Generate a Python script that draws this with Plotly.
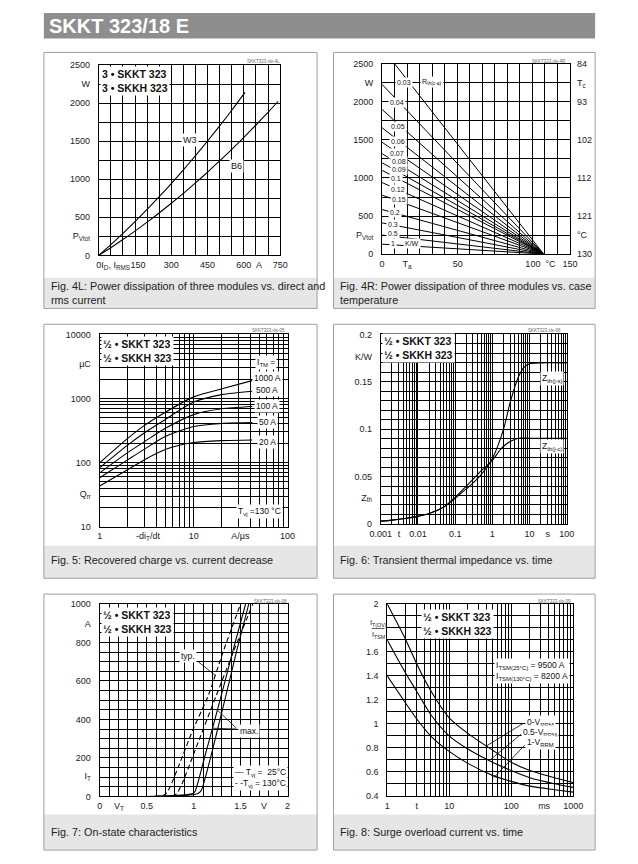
import plotly.graph_objects as go

W, H = 638, 864
FONT = "Liberation Sans, Arial, sans-serif"

# ---- Fig. 4L: power dissipation of three modules vs. current ----------------
i_w3 = [0, 50, 100, 150, 200, 250, 300, 350, 400, 450, 500, 550, 605]
p_w3 = [0, 141, 289, 443, 603, 770, 943, 1123, 1310, 1502, 1700, 1906, 2140]
i_b6 = [0, 50, 100, 150, 200, 250, 300, 350, 400, 450, 500, 550, 600, 650, 700, 742]
p_b6 = [0, 101, 208, 319, 436, 557, 684, 815, 952, 1094, 1241, 1393, 1550, 1712, 1879, 2024]

# ---- Fig. 4R: one straight line per Rth(c-a), from its start to the common end point
rth_labels = ["0.03", "0.04", "0.05", "0.06", "0.07", "0.08", "0.09",
              "0.1", "0.12", "0.15", "0.2", "0.3", "0.5", "1"]
ta_start = [10, 0, 0, 0, 0, 0, 0, 0, 0, 0, 0, 0, 0, 0]
p_start = [2500, 2230, 1900, 1660, 1470, 1320, 1200, 1100, 940, 775, 585, 410, 250, 130]
ta_end = 129

# ---- Fig. 5: recovered charge vs. -diT/dt -----------------------------------
didt = [1, 2, 3, 5, 10, 20, 42]
qrr_1000 = [99, 240, 380, 610, 1060, 1420, 1900]
qrr_500 = [83, 189, 292, 471, 879, 1150, 1300]
qrr_100 = [69, 144, 212, 342, 560, 690, 750]
qrr_50 = [58, 111, 162, 254, 365, 408, 420]
qrr_20 = [43, 78, 111, 160, 205, 220, 225]

# ---- Fig. 6: transient thermal impedance ------------------------------------
t_jc = [0.001, 0.002, 0.005, 0.01, 0.02, 0.05, 0.1, 0.2, 0.3, 0.5, 1, 1.6, 2, 3, 5, 10, 100]
z_jc = [0.003, 0.004, 0.006, 0.008, 0.011, 0.018, 0.028, 0.04, 0.047, 0.056, 0.067,
        0.078, 0.082, 0.087, 0.0905, 0.0905, 0.0905]
t_js = [0.001, 0.002, 0.005, 0.01, 0.02, 0.05, 0.1, 0.2, 0.3, 0.5, 1, 2, 3, 5, 7, 10, 20, 100]
z_js = [0.003, 0.004, 0.006, 0.008, 0.011, 0.018, 0.027, 0.037, 0.043, 0.052, 0.069,
        0.1, 0.128, 0.155, 0.165, 0.169, 0.17, 0.17]

# ---- Fig. 7: on-state characteristics ---------------------------------------
v_typ130 = [0.5, 0.66, 0.70, 0.75, 0.85, 1.0, 1.15, 1.32, 1.50]
i_typ130 = [0, 3, 12, 50, 170, 355, 517, 760, 1000]
v_max130 = [0.6, 0.78, 0.82, 0.88, 1.0, 1.235, 1.43, 1.63]
i_max130 = [0, 3, 14, 70, 220, 517, 760, 1000]
v_max25 = [0.55, 0.8, 0.97, 1.01, 1.05, 1.12, 1.2, 1.29, 1.42, 1.553]
i_max25 = [0, 4, 12, 22, 80, 210, 352, 517, 760, 1000]
v_typ25 = [0.55, 0.85, 1.04, 1.08, 1.12, 1.2, 1.34, 1.46, 1.587]
i_typ25 = [0, 4, 14, 30, 90, 240, 517, 760, 1000]

# ---- Fig. 8: surge overload current vs. time --------------------------------
t_surge = [1, 2, 3, 5, 10, 20, 50, 100, 200, 500, 1000]
ratio_0v = [2.0, 1.7, 1.5, 1.28, 1.05, 0.92, 0.78, 0.68, 0.61, 0.55, 0.51]
ratio_05v = [1.7, 1.42, 1.27, 1.08, 0.90, 0.79, 0.68, 0.61, 0.55, 0.50, 0.47]
ratio_1v = [1.4, 1.17, 1.04, 0.90, 0.77, 0.67, 0.57, 0.52, 0.48, 0.45, 0.43]


def fx(x):
    """Pixel column -> paper x."""
    return x / W


def fy(y):
    """Pixel row -> paper y."""
    return 1 - y / H


def axis(x0, x1, rng, vals, text, grid, kind="linear", anchor=None, vertical=False):
    dom = [fy(x1), fy(x0)] if vertical else [fx(x0), fx(x1)]
    return dict(
        type=kind, domain=dom, range=rng, anchor=anchor,
        tickmode="array", tickvals=vals, ticktext=text, tickangle=0,
        ticks="", ticklen=0, showgrid=False, zeroline=False,
        showline=True, mirror=True, linecolor="black", linewidth=1,
        tickfont=dict(family=FONT, size=9, color="#222"),
        ticklabelstandoff=6 if vertical else 1,
        minor=dict(showgrid=True, gridcolor="black", gridwidth=0.8, dtick=grid, tick0=0),
        fixedrange=True,
    )


fig = go.Figure()
line = dict(color="black", width=1.1, shape="spline", smoothing=0.7)
dash = dict(color="black", width=1.1, dash="5px,3px", shape="spline", smoothing=0.7)

fig.add_trace(go.Scatter(x=i_w3, y=p_w3, mode="lines", line=line, xaxis="x", yaxis="y"))
fig.add_trace(go.Scatter(x=i_b6, y=p_b6, mode="lines", line=line, xaxis="x", yaxis="y"))

fan_x, fan_y = [], []
for t0, p0 in zip(ta_start, p_start):
    fan_x += [t0, ta_end, None]
    fan_y += [p0, 0, None]
fig.add_trace(go.Scatter(x=fan_x, y=fan_y, mode="lines",
                         line=dict(color="black", width=1), xaxis="x2", yaxis="y2"))
fig.add_trace(go.Scatter(x=[None], y=[None], xaxis="x2", yaxis="y7"))

for q in (qrr_1000, qrr_500, qrr_100, qrr_50, qrr_20):
    fig.add_trace(go.Scatter(x=didt, y=q, mode="lines", line=line, xaxis="x3", yaxis="y3"))

fig.add_trace(go.Scatter(x=t_js, y=z_js, mode="lines", line=line, xaxis="x4", yaxis="y4"))
fig.add_trace(go.Scatter(x=t_jc, y=z_jc, mode="lines", line=line, xaxis="x4", yaxis="y4"))

fig.add_trace(go.Scatter(x=v_typ130, y=i_typ130, mode="lines", line=dash, xaxis="x5", yaxis="y5"))
fig.add_trace(go.Scatter(x=v_max130, y=i_max130, mode="lines", line=dash, xaxis="x5", yaxis="y5"))
fig.add_trace(go.Scatter(x=v_typ25, y=i_typ25, mode="lines", line=line, xaxis="x5", yaxis="y5"))
fig.add_trace(go.Scatter(x=v_max25, y=i_max25, mode="lines", line=line, xaxis="x5", yaxis="y5"))

for r in (ratio_0v, ratio_05v, ratio_1v):
    fig.add_trace(go.Scatter(x=t_surge, y=r, mode="lines", line=line, xaxis="x6", yaxis="y6"))

# Axes: pixel positions of each plot frame, tick labels as printed in the sheet
fig.update_layout(
    xaxis=axis(90.7, 278.3, [0, 750], [0, 70, 162, 300, 450, 600, 663, 750],
               ["0", "I<sub>D</sub>, I<sub>RMS</sub>", "150", "300", "450", "600", "A", "750"],
               50, anchor="y"),
    yaxis=axis(60.7, 253.3, [0, 2500], [0, 250, 500, 1000, 1500, 2000, 2250, 2500],
               ["0", "P<sub>Vtot</sub>", "500", "1000", "1500", "2000", "W", "2500"],
               250, anchor="x", vertical=True),
    xaxis2=axis(383.7, 578, [0, 150], [0, 20, 60.5, 120.4, 134.5, 150],
                ["0", "T<sub>a</sub>", "50", "100", "°C", "150"], 10, anchor="y2"),
    yaxis2=axis(59.5, 252, [0, 2500], [0, 250, 500, 1000, 1500, 2000, 2250, 2500],
                ["0", "P<sub>Vtot</sub>", "500", "1000", "1500", "2000", "W", "2500"],
                250, anchor="x2", vertical=True),
    xaxis3=axis(91.7, 286, [0, 2], [1, 3.27, 10, 31.5, 100],
                ["1", "-di<sub>T</sub>/dt", "10", "A/µs", "100"], "D1", kind="log", anchor="y3"),
    yaxis3=axis(333.3, 527.7, [1, 4], [10, 32, 100, 1000, 3440, 10000],
                ["10", "Q<sub>rr</sub>", "100", "1000", "µC", "10000"], "D1",
                kind="log", anchor="x3", vertical=True),
    xaxis4=axis(382.3, 574.7, [-3, 2], [0.001, 0.0031, 0.01, 0.1, 1, 10, 31, 100],
                ["0.001", "t", "0.01", "0.1", "1", "10", "s", "100"], "D1", kind="log", anchor="y4"),
    yaxis4=axis(333.3, 525, [0, 0.2], [0, 0.028, 0.05, 0.1, 0.15, 0.176, 0.2],
                ["0", "Z<sub>th</sub>", "0.05", "0.1", "0.15", "K/W", "0.2"], 0.01,
                anchor="x4", vertical=True),
    xaxis5=axis(91.7, 286, [0, 2], [0, 0.206, 0.5, 1, 1.5, 1.75, 2],
                ["0", "V<sub>T</sub>", "0.5", "1", "1.5", "V", "2"], 0.1, anchor="y5"),
    yaxis5=axis(606, 800.7, [0, 1000], [0, 106, 200, 400, 600, 800, 899, 1000],
                ["0", "I<sub>T</sub>", "200", "400", "600", "800", "A", "1000"], 50,
                anchor="x5", vertical=True),
    xaxis6=axis(389, 581.3, [0, 3], [1, 3, 10, 100, 340, 1000],
                ["1", "t", "10", "100", "ms", "1000"], "D1", kind="log", anchor="y6"),
    yaxis6=axis(606, 800, [0.4, 2], [0.4, 0.6, 0.8, 1, 1.2, 1.4, 1.6, 2],
                ["0.4", "0.6", "0.8", "1", "1.2", "1.4", "1.6", "2"], 0.1,
                anchor="x6", vertical=True),
    yaxis7=dict(overlaying="y2", side="right", anchor="x2", range=[0, 2500],
                tickmode="array", tickvals=[0, 250, 500, 1000, 1500, 2000, 2250, 2500],
                ticktext=["130", "°C", "121", "112", "102", "93", "T<sub>c</sub>", "84"],
                ticks="", ticklen=0, showgrid=False, zeroline=False, showline=False,
                ticklabelstandoff=6, fixedrange=True,
                tickfont=dict(family=FONT, size=9, color="#222")),
)

shapes, notes = [], []


def rect(x0, y0, x1, y1, fill=None, edge=None):
    shapes.append(dict(type="rect", xref="paper", yref="paper", layer="below",
                       x0=fx(x0), x1=fx(x1), y0=fy(y1), y1=fy(y0),
                       fillcolor=fill, line=dict(color=edge or "rgba(0,0,0,0)", width=1)))


def seg(x0, y0, x1, y1):
    shapes.append(dict(type="line", xref="paper", yref="paper",
                       x0=fx(x0), y0=fy(y0), x1=fx(x1), y1=fy(y1),
                       line=dict(color="black", width=0.8)))


def note(x, y, text, size=8.5, anchor="center", bg=None, color="#111", align="center"):
    notes.append(dict(x=fx(x), y=fy(y), xref="paper", yref="paper", text=text,
                      showarrow=False, xanchor=anchor, yanchor="middle", align=align,
                      font=dict(family=FONT, size=size, color=color),
                      bgcolor=bg, borderpad=1))


# Page title band
rect(34, 8, 604, 34, fill="#8e8e8e")
note(37, 21.5, "<b>SKKT 323/18 E</b>", size=20, anchor="left", color="white")

# Panel frames and caption strips
for x0, x1 in ((34, 316.5), (333.5, 604)):
    rect(x0, 276, x1, 307, fill="#e6e6e6")
    rect(x0, 48, x1, 307, edge="#a0a0a0")
    rect(x0, 547, x1, 580, fill="#e6e6e6")
    rect(x0, 323, x1, 580, edge="#a0a0a0")
    rect(x0, 819, x1, 855, fill="#e6e6e6")
    rect(x0, 596, x1, 855, edge="#a0a0a0")

CAP = 10.8
note(39, 284.5, "Fig. 4L: Power dissipation of three modules vs. direct and", CAP, "left", color="#222")
note(39, 298.5, "rms current", CAP, "left", color="#222")
note(338, 284.5, "Fig. 4R: Power dissipation of three modules vs. case", CAP, "left", color="#222")
note(338, 298.5, "temperature", CAP, "left", color="#222")
note(39, 562, "Fig. 5: Recovered charge vs. current decrease", CAP, "left", color="#222")
note(338, 562, "Fig. 6: Transient thermal impedance vs. time", CAP, "left", color="#222")
note(39, 837, "Fig. 7: On-state characteristics", CAP, "left", color="#222")
note(338, 837, "Fig. 8: Surge overload current vs. time", CAP, "left", color="#222")

# Tiny file tags above each plot
for x, y, tag in ((280, 57, "SKKT323.xls-4L"), (576, 57, "SKKT323.xls-4R"),
                  (285, 329.5, "SKKT323.xls-05"), (571, 329.5, "SKKT323.xls-06"),
                  (287, 603.5, "SKKT323.xls-08"), (581, 603.5, "SKKT323.xls-09")):
    note(x, y, tag, 4.5, "right", color="#666")

# Module boxes
three = "<b>3 • SKKT 323<br>3 • SKKH 323</b>"
half = "<b>½ • SKKT 323<br>½ • SKKH 323</b>"
note(92, 76.5, three, 10.5, "left", bg="white", align="left")
note(93, 350, half, 10.5, "left", bg="white", align="left")
note(384, 347.5, half, 10.5, "left", bg="white", align="left")
note(93, 624.5, half, 10.5, "left", bg="white", align="left")
note(462, 626, half, 10.5, bg="white", align="left")

# Fig. 4L
note(185, 136.7, "W3", 9, bg="white")
note(233, 163.3, "B6", 9, bg="white")

# Fig. 4R curve labels
rth_px = [(406, 78.3), (399, 98.3), (400, 123.3), (400, 138.3), (399, 150), (401, 158.3),
          (401, 166.3), (398, 175.3), (400, 186.3), (401, 196.7), (397, 209.6),
          (395, 222), (395, 231.5), (395, 241)]
for lab, (x, y) in zip(rth_labels, rth_px):
    note(x, y, lab, 7, bg="white")
note(435.5, 78.3, "R<sub>th(c-a)</sub>", 7, bg="white")
note(414.7, 241.5, "K/W", 7, bg="white")

# Fig. 5
note(263.3, 361.7, "I<sub>TM</sub> =", 8.5, bg="white")
for lab, y in (("1000 A", 377.3), ("500 A", 390), ("100 A", 406), ("50 A", 421.7), ("20 A", 441.7)):
    note(265, y, lab, 8.5, bg="white")
note(257, 512.3, "T<sub>vj</sub> =130 °C", 8.5, bg="white")

# Fig. 6
note(559, 378, "Z<sub>th(j-s)</sub>", 8.5, bg="white")
note(559, 447, "Z<sub>th(j-c)</sub>", 8.5, bg="white")

# Fig. 7
note(183, 659, "typ.", 8.5, bg="white")
note(246, 734, "max.", 8.5, bg="white")
seg(193, 664, 211.5, 678.4)
seg(233, 731.5, 213.3, 713.3)
seg(233, 732.5, 208.3, 731.7)
note(258, 782, "— T<sub>vj</sub> =  25°C<br>- -T<sub>vj</sub> = 130°C", 8.5, bg="white", align="left")

# Fig. 8
note(539, 673.5, "I<sub>TSM(25°C)</sub> = 9500 A<br>I<sub>TSM(130°C)</sub> = 8200 A", 8.5,
     bg="white", align="left")
note(548, 726, "0-V<sub>RRM</sub>", 8.5, bg="white")
note(546.5, 736.5, "0.5-V<sub>RRM</sub>", 8.5, bg="white")
note(548, 746.5, "1-V<sub>RRM</sub>", 8.5, bg="white")
seg(529.3, 727, 491, 750)
seg(527.7, 737.5, 496, 763.3)
seg(531, 749, 499.3, 781.7)
note(379.5, 625, "I<sub>T(OV)</sub>", 7.5, color="#222")
note(379.5, 637, "I<sub>TSM</sub>", 7.5, color="#222")
shapes.append(dict(type="line", xref="paper", yref="paper", x0=fx(373), x1=fx(386),
                   y0=fy(630.8), y1=fy(630.8), line=dict(color="#222", width=0.7)))

fig.update_layout(
    width=W, height=H, margin=dict(l=0, r=0, t=0, b=0),
    paper_bgcolor="white", plot_bgcolor="white",
    showlegend=False, shapes=shapes, annotations=notes,
    font=dict(family=FONT),
)

# Page body without its default margin so the figure fills the window exactly
fig.write_html("out.html", config={"displayModeBar": False},
               post_script="document.body.style.margin='0';document.body.style.overflow='hidden';")
